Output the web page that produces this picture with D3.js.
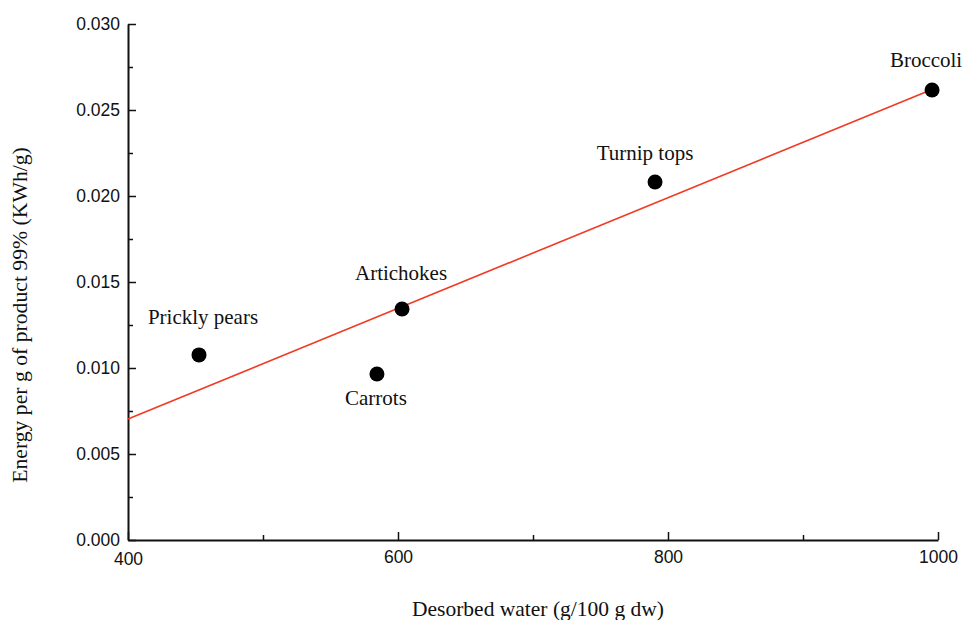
<!DOCTYPE html>
<html>
<head>
<meta charset="utf-8">
<script src="https://cdn.jsdelivr.net/npm/d3@7"></script>
<style>
body{margin:0;background:#fff;}
.tick text{font-family:'Liberation Sans',Arial,sans-serif;font-size:17.5px;fill:#111;}
.lbl{font-family:'Liberation Serif','Times New Roman',serif;font-size:21px;fill:#111;}
</style>
</head>
<body>
<script>
const width=969;
const height=620;
const margin={top:24,right:31,bottom:80,left:128};

// data
const products=['Prickly pears','Carrots','Artichokes','Turnip tops','Broccoli'];
const water=[452.6,584.4,603,790.4,995.6];
const energy=[0.01076,0.00965,0.01343,0.02081,0.02616];
// fitted line end points
const fitX=[400,1000];
const fitY=[0.00703,0.02634];
const xTicks=[400,600,800,1000];
const yTicks=[0,0.005,0.010,0.015,0.020,0.025,0.030];

// label placement relative to each point
const labelOffset=[[4,-38],[-1,24],[-1,-36],[-10,-29],[-6,-30]];

const svg=d3.select('body').append('svg').attr('width',width).attr('height',height);

const x=d3.scaleLinear().domain([400,1000]).range([margin.left,width-margin.right]);
const y=d3.scaleLinear().domain([0,0.030]).range([height-margin.bottom,margin.top]);

// minor ticks
svg.append('g')
    .attr('transform',`translate(0,${height-margin.bottom})`)
    .call(d3.axisTop(x).tickValues([500,700,900]).tickSize(5).tickFormat(''))
    .call(g=>g.select('.domain').remove());
svg.append('g')
    .attr('transform',`translate(${margin.left},0)`)
    .call(d3.axisRight(y).tickValues(d3.range(0.0025,0.03,0.005)).tickSize(5).tickFormat(''))
    .call(g=>g.select('.domain').remove());

const xAxis=svg.append('g')
    .attr('transform',`translate(0,${height-margin.bottom})`)
    .call(d3.axisTop(x).tickValues(xTicks).tickSize(8).tickSizeOuter(0).tickFormat(d3.format('d')));
xAxis.selectAll('.tick text').attr('y',11).attr('dy','0.71em');
xAxis.select('.tick text').attr('y',13);

const yAxis=svg.append('g')
    .attr('transform',`translate(${margin.left},0)`)
    .call(d3.axisRight(y).tickValues(yTicks).tickSize(8).tickSizeOuter(0).tickFormat(d3.format('.3f')));
yAxis.selectAll('.tick text').attr('x',-8).attr('text-anchor','end');

svg.selectAll('.domain').attr('stroke','#111').attr('stroke-width',2);
svg.selectAll('.tick line').attr('stroke','#111').attr('stroke-width',1.5);

svg.append('line')
    .attr('x1',x(fitX[0])).attr('y1',y(fitY[0]))
    .attr('x2',x(fitX[1])).attr('y2',y(fitY[1]))
    .attr('stroke','#f03a22').attr('stroke-width',1.6);

svg.selectAll('circle.pt')
    .data(products)
    .enter()
    .append('circle')
    .attr('class','pt')
    .attr('cx',(d,i)=>x(water[i]))
    .attr('cy',(d,i)=>y(energy[i]))
    .attr('r',7.5)
    .attr('fill','#000');

svg.selectAll('text.pname')
    .data(products)
    .enter()
    .append('text')
    .attr('class','lbl pname')
    .attr('x',(d,i)=>x(water[i])+labelOffset[i][0])
    .attr('y',(d,i)=>y(energy[i])+labelOffset[i][1])
    .attr('text-anchor','middle')
    .attr('dy','0.35em')
    .text(d=>d);

svg.append('text').attr('class','lbl')
    .attr('x',538).attr('y',616)
    .attr('text-anchor','middle')
    .style('font-size','21.5px')
    .text('Desorbed water (g/100 g dw)');

svg.append('text').attr('class','lbl')
    .attr('transform','translate(27,315) rotate(-90)')
    .attr('text-anchor','middle')
    .style('font-size','21.7px')
    .text('Energy per g of product 99% (KWh/g)');
</script>
</body>
</html>
